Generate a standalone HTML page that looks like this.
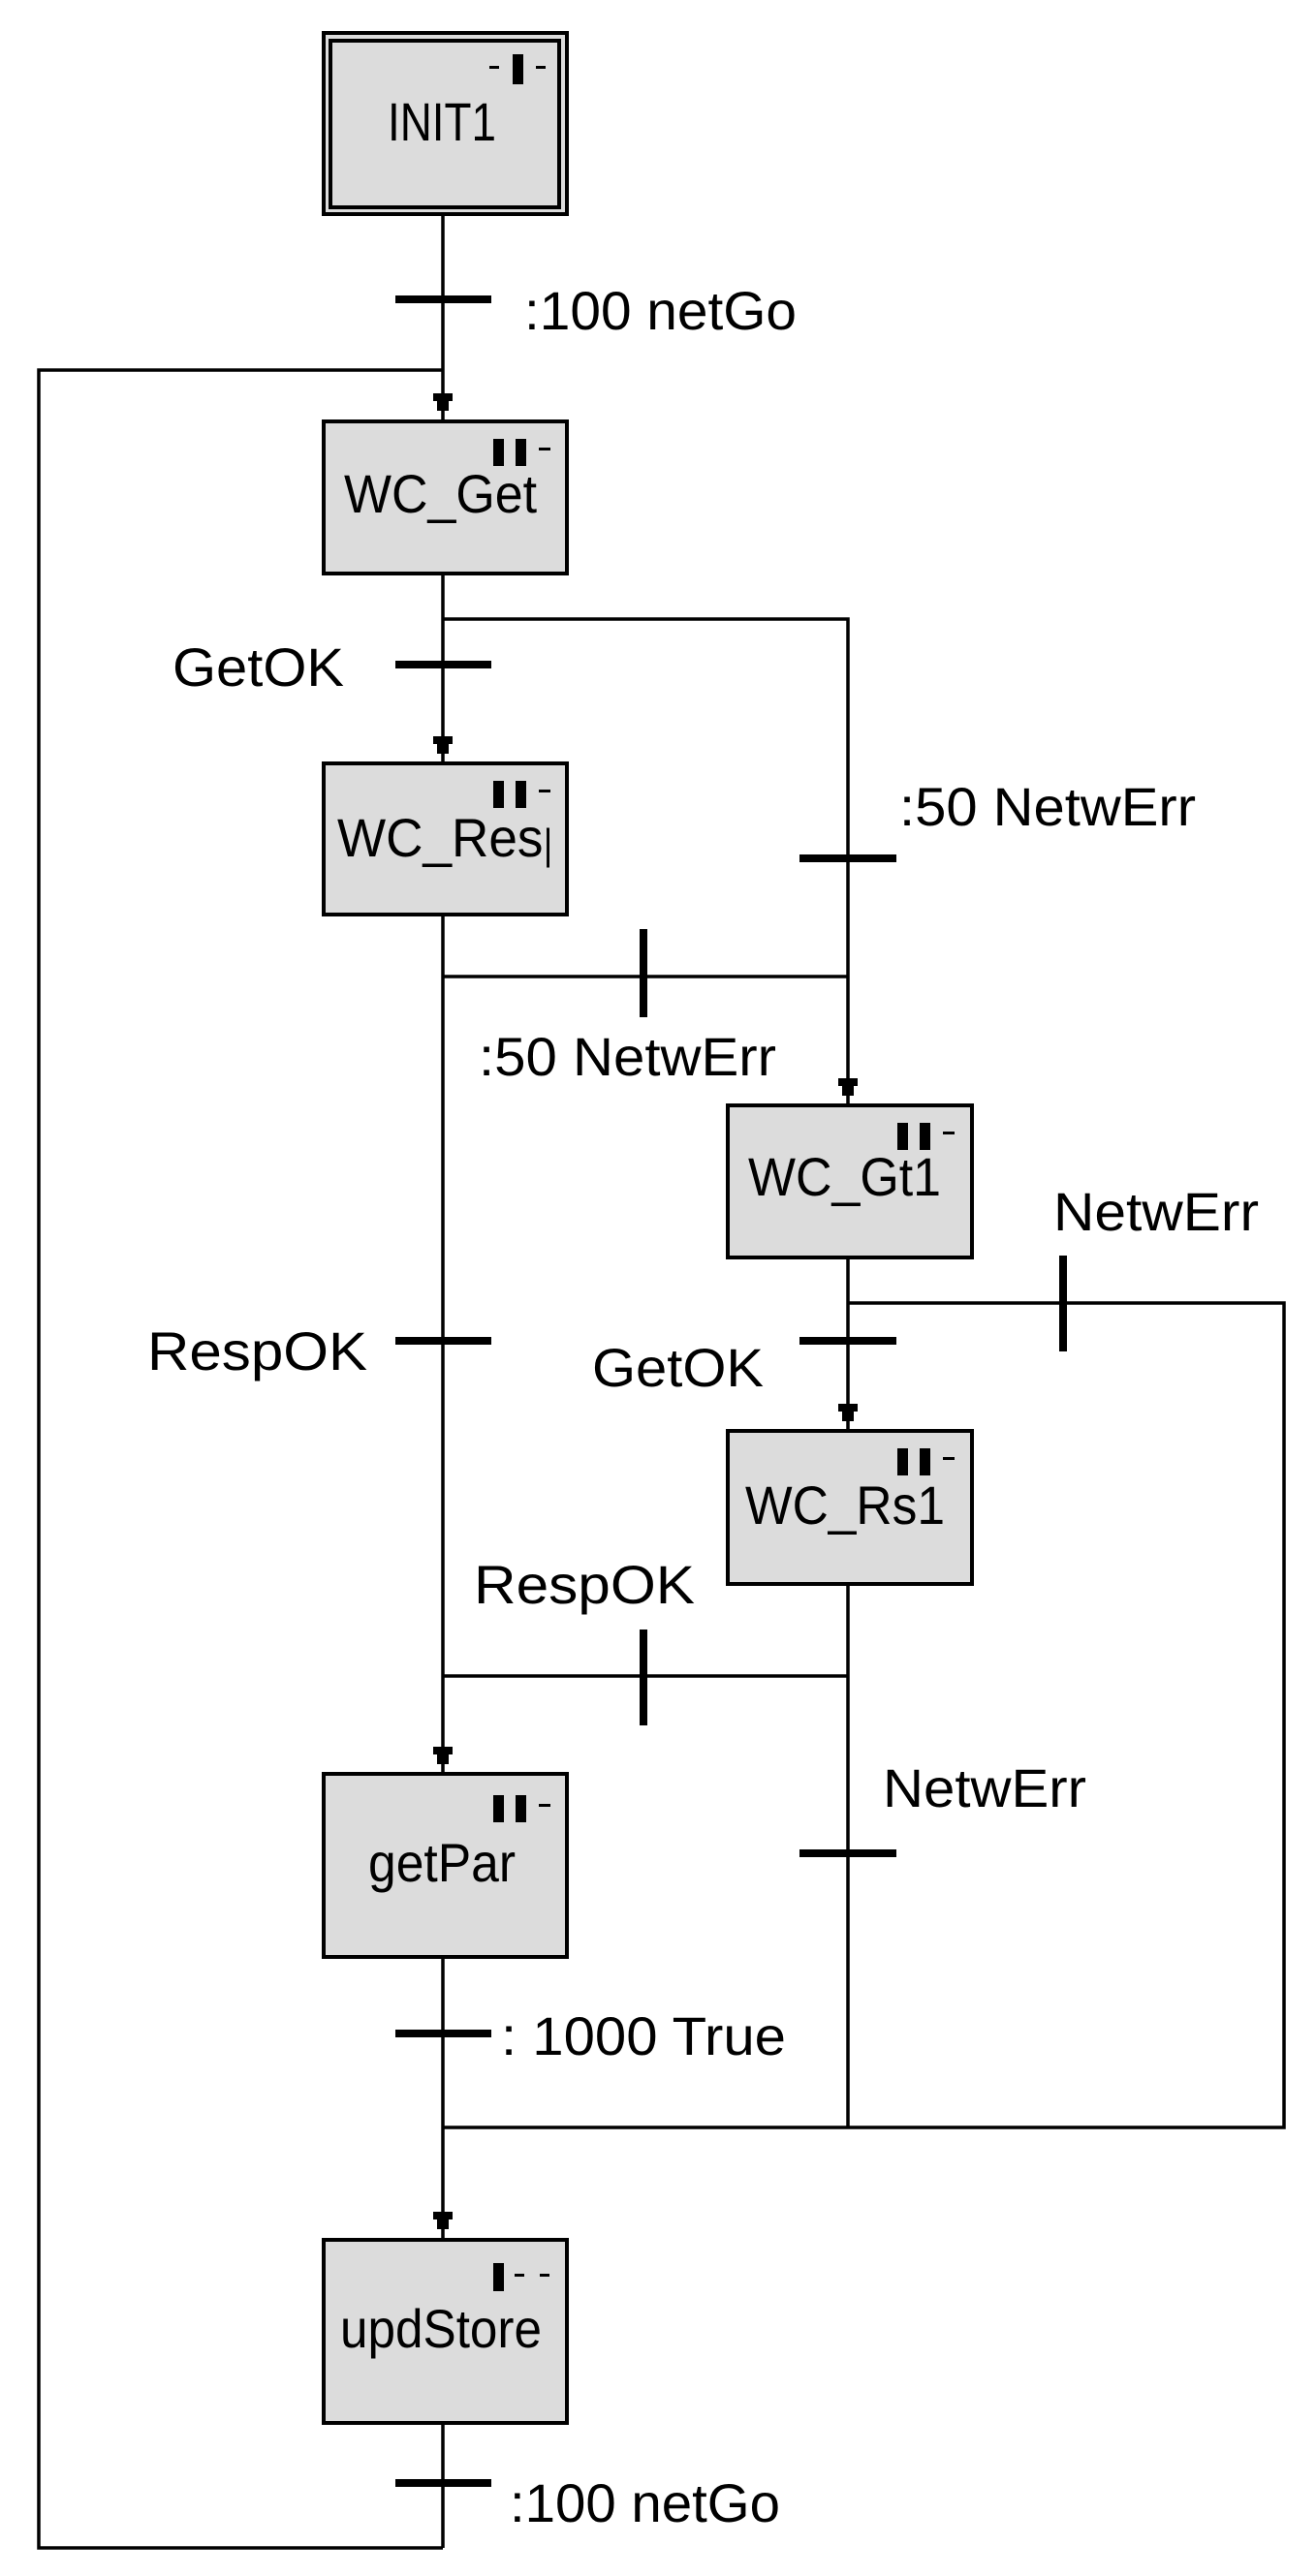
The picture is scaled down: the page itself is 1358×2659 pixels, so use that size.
<!DOCTYPE html>
<html><head><meta charset="utf-8"><style>html,body{margin:0;padding:0;background:#fff}svg{display:block}</style></head>
<body>
<svg width="1358" height="2659" viewBox="0 0 1358 2659" xmlns="http://www.w3.org/2000/svg" font-family="Liberation Sans, Arial, sans-serif" fill="#000">
<defs>
<g id="arr"><path d="M-10 0 H10 L10 8 L6 8 L6 18 L-6 18 L-6 8 L-10 8 Z"/></g>
<g id="ii"><rect x="176" y="19" width="11" height="28"/><rect x="199" y="19" width="11" height="28"/><rect x="223" y="28" width="12" height="3"/></g>
<clipPath id="cr"><rect x="336" y="790" width="231" height="152"/></clipPath>
</defs>
<g stroke="#000" stroke-width="3.5" fill="none">
<line x1="457" y1="223" x2="457" y2="435"/>
<line x1="457" y1="592" x2="457" y2="788"/>
<line x1="457" y1="944" x2="457" y2="1831"/>
<line x1="457" y1="2020" x2="457" y2="2312"/>
<line x1="457" y1="2501" x2="457" y2="2630"/>
<polyline points="457,2630 40,2630 40,382 457,382"/>
<polyline points="457,639 875,639 875,1141"/>
<line x1="457" y1="1008" x2="875" y2="1008"/>
<line x1="875" y1="1298" x2="875" y2="1477"/>
<polyline points="875,1345 1325,1345 1325,2196 457,2196"/>
<line x1="875" y1="1635" x2="875" y2="2196"/>
<line x1="457" y1="1730" x2="875" y2="1730"/>
</g>
<rect x="408" y="305" width="99" height="8"/>
<rect x="408" y="682" width="99" height="8"/>
<rect x="825" y="882" width="100" height="8"/>
<rect x="660" y="959" width="8" height="91"/>
<rect x="1093" y="1296" width="8" height="99"/>
<rect x="825" y="1380" width="100" height="8"/>
<rect x="408" y="1380" width="99" height="8"/>
<rect x="660" y="1682" width="8" height="99"/>
<rect x="825" y="1909" width="100" height="8"/>
<rect x="408" y="2095" width="99" height="8"/>
<rect x="408" y="2559" width="99" height="8"/>
<use href="#arr" x="457" y="406"/>
<use href="#arr" x="457" y="760"/>
<use href="#arr" x="875" y="1113"/>
<use href="#arr" x="875" y="1449"/>
<use href="#arr" x="457" y="1803"/>
<use href="#arr" x="457" y="2283"/>
<g fill="#dcdcdc" stroke="#000" stroke-width="4">
<rect x="334" y="34" width="251" height="187"/>
<rect x="341" y="42" width="236" height="172"/>
<rect x="334" y="435" width="251" height="157"/>
<rect x="334" y="788" width="251" height="156"/>
<rect x="751" y="1141" width="252" height="157"/>
<rect x="751" y="1477" width="252" height="158"/>
<rect x="334" y="1831" width="251" height="189"/>
<rect x="334" y="2312" width="251" height="189"/>
</g>
<rect x="505" y="68" width="10" height="3"/><rect x="529" y="56" width="11" height="31"/><rect x="553" y="68" width="10" height="3"/>
<use href="#ii" x="333" y="434"/>
<use href="#ii" x="333" y="787"/>
<use href="#ii" x="750" y="1140"/>
<use href="#ii" x="750" y="1476"/>
<use href="#ii" x="333" y="1834"/>
<rect x="509" y="2336" width="11" height="29"/><rect x="531" y="2347" width="10" height="3"/><rect x="557" y="2347" width="10" height="3"/>
<g font-size="56">
<text x="400" y="145" textLength="112" lengthAdjust="spacingAndGlyphs">INIT1</text>
<text x="355" y="529" textLength="199" lengthAdjust="spacingAndGlyphs">WC_Get</text>
<text x="348" y="884" textLength="242" lengthAdjust="spacingAndGlyphs" clip-path="url(#cr)">WC_Resp</text>
<text x="772" y="1234" textLength="199" lengthAdjust="spacingAndGlyphs">WC_Gt1</text>
<text x="769" y="1573" textLength="206" lengthAdjust="spacingAndGlyphs">WC_Rs1</text>
<text x="380" y="1942" textLength="152" lengthAdjust="spacingAndGlyphs">getPar</text>
<text x="351" y="2423" textLength="208" lengthAdjust="spacingAndGlyphs">updStore</text>
</g>
<g font-size="56">
<text x="541" y="340" textLength="281" lengthAdjust="spacingAndGlyphs">:100 netGo</text>
<text x="178" y="708" textLength="177" lengthAdjust="spacingAndGlyphs">GetOK</text>
<text x="928" y="852" textLength="306" lengthAdjust="spacingAndGlyphs">:50 NetwErr</text>
<text x="494" y="1110" textLength="307" lengthAdjust="spacingAndGlyphs">:50 NetwErr</text>
<text x="1087" y="1270" textLength="212" lengthAdjust="spacingAndGlyphs">NetwErr</text>
<text x="152" y="1414" textLength="227" lengthAdjust="spacingAndGlyphs">RespOK</text>
<text x="611" y="1431" textLength="177" lengthAdjust="spacingAndGlyphs">GetOK</text>
<text x="489" y="1655" textLength="228" lengthAdjust="spacingAndGlyphs">RespOK</text>
<text x="911" y="1865" textLength="210" lengthAdjust="spacingAndGlyphs">NetwErr</text>
<text x="517" y="2121" textLength="294" lengthAdjust="spacingAndGlyphs">: 1000 True</text>
<text x="526" y="2603" textLength="279" lengthAdjust="spacingAndGlyphs">:100 netGo</text>
</g>
</svg>
</body></html>
